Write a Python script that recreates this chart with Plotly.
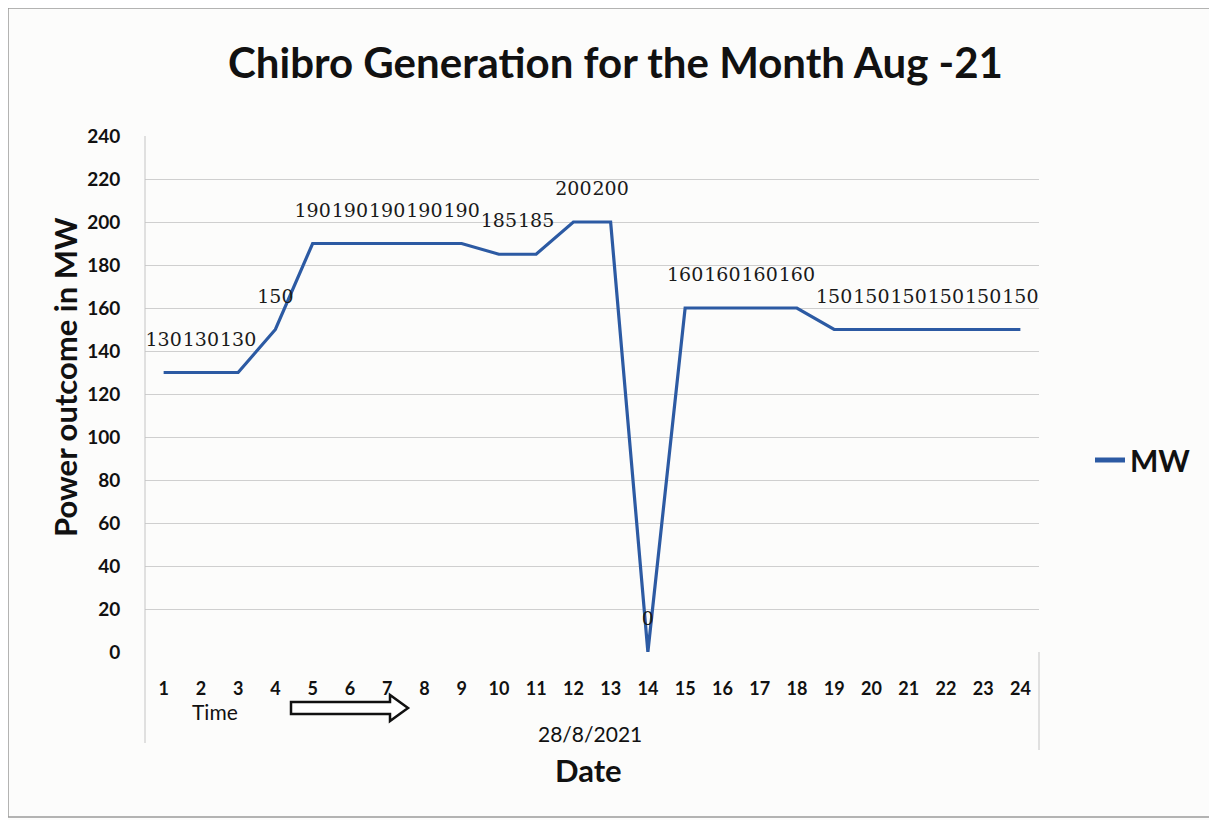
import plotly.graph_objects as go

# ---- data ----
hours = list(range(1, 25))
hour_labels = [str(h) for h in hours]
mw = [130, 130, 130, 150, 190, 190, 190, 190, 190, 185, 185, 200,
      200, 0, 160, 160, 160, 160, 150, 150, 150, 150, 150, 150]
y_ticks = list(range(0, 241, 20))

OFF = 8  # default page body margin
W, H = 1217 - OFF, 820 - OFF
L, R, T, B = 145, 1039, 136, 652  # plot area in page pixels


def px(x):
    return (x - L) / (R - L)


def py(y):
    return (B - y) / (B - T)


LINE = "#2c5aa3"
TXT = "#1a1a1a"

fig = go.Figure()
fig.add_trace(go.Scatter(
    x=hours, y=mw, name="MW",
    mode="lines+markers+text",
    line=dict(color=LINE, width=3.2),
    marker=dict(size=34, color="rgba(0,0,0,0)"),
    text=[str(v) for v in mw],
    textposition="top center",
    textfont=dict(family="DejaVu Serif", size=19, color=TXT),
    cliponaxis=False,
))

shapes = [
    # outer frame
    dict(type="rect", xref="paper", yref="paper", x0=px(8), x1=px(1240),
         y0=py(817), y1=py(8), line=dict(color="#9a9a9a", width=1.5), layer="below"),
    # left axis line extending into category area
    dict(type="line", xref="paper", yref="paper", x0=px(145), x1=px(145),
         y0=py(743), y1=py(136), line=dict(color="#c4c4c4", width=1)),
    # right separator below the plot
    dict(type="line", xref="paper", yref="paper", x0=px(1039), x1=px(1039),
         y0=py(750), y1=py(652), line=dict(color="#c4c4c4", width=1)),
    # hollow arrow
    dict(type="path", xref="paper", yref="paper",
         path="M {a},{b} L {c},{b} L {c},{d} L {e},{f} L {c},{g} L {c},{h} L {a},{h} Z".format(
             a=px(291), b=py(702), c=px(390), d=py(695), e=px(408), f=py(708),
             g=py(721), h=py(714)),
         line=dict(color="#111111", width=2.5), fillcolor="white"),
]

annotations = [
    dict(text="<b>Chibro Generation for the Month Aug -21</b>", xref="paper", yref="paper",
         x=px(615), y=py(62), showarrow=False, xanchor="center", yanchor="middle",
         font=dict(family="Lato", size=42, color="#111111")),
    dict(text="<b>Power outcome in MW</b>", xref="paper", yref="paper",
         x=px(65), y=py(377), showarrow=False, textangle=-90, xanchor="center", yanchor="middle",
         font=dict(family="Lato", size=31, color="#111111")),
    dict(text="<b>Date</b>", xref="paper", yref="paper",
         x=px(588), y=py(770), showarrow=False, xanchor="center", yanchor="middle",
         font=dict(family="Lato", size=31, color="#111111")),
    dict(text="28/8/2021", xref="paper", yref="paper",
         x=px(590), y=py(733), showarrow=False, xanchor="center", yanchor="middle",
         font=dict(family="Lato", size=21, color="#111111")),
    dict(text="Time", xref="paper", yref="paper",
         x=px(215), y=py(711), showarrow=False, xanchor="center", yanchor="middle",
         font=dict(family="Lato", size=21, color="#111111")),
]

fig.update_layout(
    width=W, height=H,
    margin=dict(l=L - OFF, r=W - (R - OFF), t=T - OFF, b=H - (B - OFF)),
    paper_bgcolor="#fcfcfb", plot_bgcolor="#fcfcfb",
    showlegend=True,
    legend=dict(x=px(1090), y=py(460), xanchor="left", yanchor="middle",
                bgcolor="rgba(0,0,0,0)",
                font=dict(family="Lato", size=30, color="#111111", weight="bold"),
                itemsizing="constant"),
    shapes=shapes, annotations=annotations,
    xaxis=dict(range=[0.5, 24.5], tickvals=hours, ticktext=hour_labels,
               showgrid=False, zeroline=False, showline=False,
               ticks="outside", ticklen=20, tickcolor="rgba(0,0,0,0)",
               tickfont=dict(family="Lato", size=18, color="#111111", weight="bold")),
    yaxis=dict(range=[0, 240], tickvals=y_ticks, showgrid=True, gridcolor="#cfcfcf",
               gridwidth=1, zeroline=False, showline=False,
               ticks="outside", ticklen=20, tickcolor="rgba(0,0,0,0)",
               tickfont=dict(family="Lato", size=19, color="#111111", weight="bold")),
)

fig.write_html("out.html")
